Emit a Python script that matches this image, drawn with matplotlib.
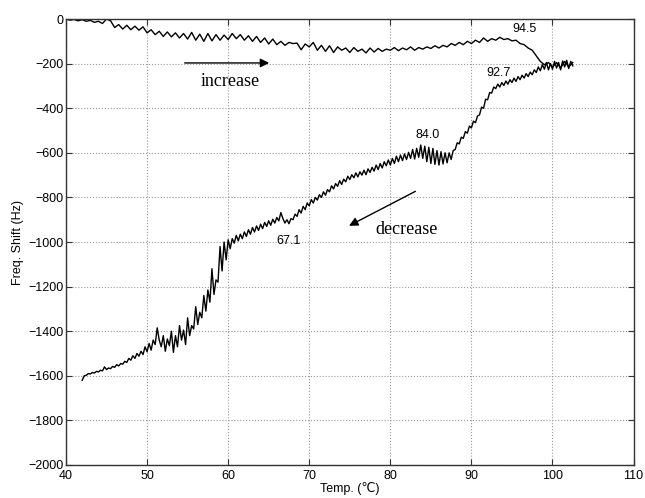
import numpy as np
import matplotlib
matplotlib.use('Agg')
import matplotlib.pyplot as plt

plt.rcParams['font.family'] = ['Liberation Sans', 'DejaVu Sans']

# heating run, 0.5 C steps starting at 40.0
up_start = 40.0
up_step = 0.5
up_shift = [
    0, -5, -2, -8, -3, -10, -6, -15, -10, -20,
    0, -8, -38, -25, -45, -28, -48, -32, -50, -35,
    -62, -48, -70, -55, -78, -58, -80, -62, -85, -65,
    -90, -60, -95, -68, -100, -65, -98, -70, -95, -72,
    -92, -65, -88, -70, -95, -75, -100, -78, -105, -85,
    -112, -90, -115, -100, -118, -105, -110, -108, -138, -112,
    -125, -105, -140, -118, -145, -120, -150, -125, -140, -130,
    -150, -128, -145, -135, -152, -130, -148, -132, -145, -135,
    -140, -128, -142, -130, -138, -125, -140, -128, -135, -125,
    -132, -120, -130, -118, -125, -110, -118, -105, -115, -100,
    -110, -95, -105, -85, -100, -88, -95, -82, -92, -88,
    -98, -95, -110, -115, -130, -140, -165, -190, -205, -195,
    -215, -195, -220, -190, -215, -195,
]

# cooling run, 0.25 C steps starting at 42.0
down_start = 42.0
down_step = 0.25
down_shift = [
    -1620, -1600, -1598, -1590, -1592, -1585, -1588, -1580, -1583, -1575,
    -1578, -1560, -1572, -1565, -1568, -1558, -1562, -1550, -1556, -1545,
    -1548, -1535, -1540, -1522, -1530, -1510, -1522, -1500, -1512, -1490,
    -1505, -1470, -1492, -1455, -1485, -1440, -1460, -1385, -1440, -1470,
    -1420, -1490, -1435, -1465, -1400, -1495, -1420, -1470, -1375, -1440,
    -1395, -1460, -1340, -1420, -1375, -1390, -1290, -1370, -1315, -1340,
    -1240, -1310, -1215, -1270, -1120, -1235, -1170, -1180, -1020, -1130,
    -1000, -1080, -990, -1030, -985, -1005, -970, -995, -965, -985,
    -955, -975, -945, -965, -935, -955, -928, -948, -920, -940,
    -912, -930, -905, -925, -898, -915, -890, -905, -868, -895,
    -915, -900, -918, -895, -900, -875, -885, -855, -870, -840,
    -855, -825, -838, -810, -825, -800, -812, -788, -800, -775,
    -790, -765, -775, -748, -762, -738, -750, -725, -742, -718,
    -730, -705, -720, -698, -712, -690, -708, -685, -700, -678,
    -698, -672, -688, -665, -682, -655, -675, -648, -668, -640,
    -658, -632, -655, -625, -648, -615, -640, -610, -635, -605,
    -630, -598, -625, -585, -628, -580, -620, -565, -625, -570,
    -640, -575, -648, -580, -652, -590, -655, -595, -650, -600,
    -645, -600, -630, -590, -585, -555, -560, -530, -535, -505,
    -512, -480, -488, -458, -465, -435, -430, -395, -400, -360,
    -362, -330, -332, -305, -312, -292, -305, -285, -298, -278,
    -292, -272, -285, -265, -280, -258, -272, -252, -265, -245,
    -258, -238, -250, -228, -240, -215, -232, -205, -225, -195,
    -228, -200, -225, -190, -220, -195, -228, -188, -215, -185,
    -222, -190, -210,
]

# temperature labels on the curves: (temp, shift, text)
marks = [(96.6, -45, '94.5'), (93.3, -243, '92.7'),
         (84.6, -520, '84.0'), (67.5, -996, '67.1')]

up_temp = up_start + up_step * np.arange(len(up_shift))
down_temp = down_start + down_step * np.arange(len(down_shift))

fig = plt.figure(figsize=(6.45, 4.98), dpi=100)
ax = fig.add_axes([0.1023, 0.0663, 0.880, 0.8955])

ax.plot(up_temp, up_shift, color='black', lw=1.0)
ax.plot(down_temp, down_shift, color='black', lw=1.0)

for t, s, txt in marks:
    ax.text(t, s, txt, fontsize=9, ha='center', va='center')

# arrows and words
ax.annotate('', xy=(65.4, -197), xytext=(54.3, -197),
            arrowprops=dict(arrowstyle='-|>', color='black', lw=1.0,
                            mutation_scale=13))
ax.text(60.2, -282, 'increase', fontsize=13, family='Liberation Serif',
        ha='center', va='center')
ax.annotate('', xy=(74.6, -933), xytext=(83.4, -767),
            arrowprops=dict(arrowstyle='-|>', color='black', lw=1.0,
                            mutation_scale=13))
ax.text(82.0, -946, 'decrease', fontsize=13, family='Liberation Serif',
        ha='center', va='center')

ax.set_xlim(40, 110)
ax.set_ylim(-2000, 0)
ax.set_xticks(np.arange(40, 111, 10))
ax.set_yticks(np.arange(-2000, 1, 200))
ax.tick_params(direction='in', top=True, right=True, length=4,
               labelsize=9, color='#333333')
ax.tick_params(axis='y', pad=2)
ax.tick_params(axis='x', pad=3.5)
ax.grid(True, linestyle=':', color='#999999', lw=0.8)
for sp in ax.spines.values():
    sp.set_color('#333333')
    sp.set_linewidth(1.0)

ax.set_xlabel('Temp. (\u2103)', fontsize=9, labelpad=0)
ax.set_ylabel('Freq. Shift (Hz)', fontsize=9, labelpad=3)

plt.savefig('out.png', dpi=100)
